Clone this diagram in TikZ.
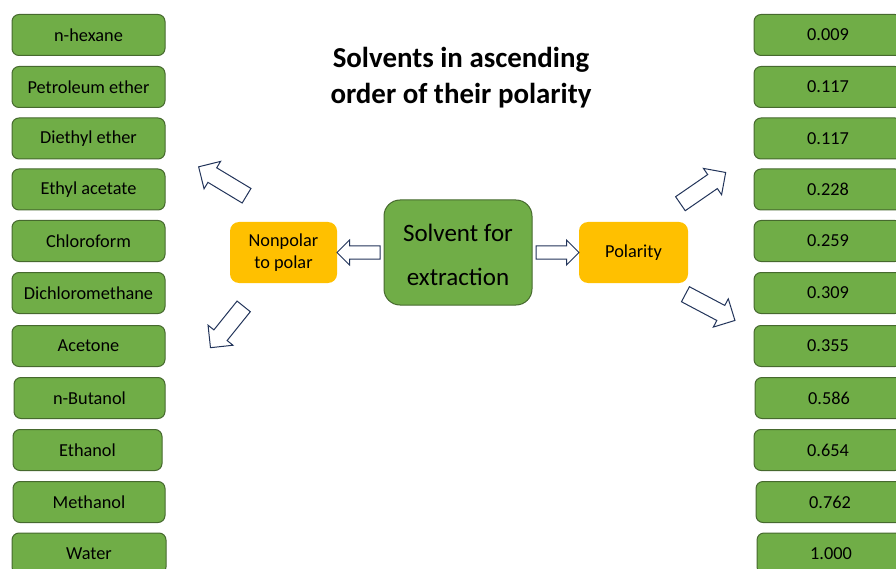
\documentclass[tikz,border=0pt]{standalone}
\usepackage{fontspec}
\setmainfont{Carlito}
\usetikzlibrary{positioning}
\usetikzlibrary{shapes.arrows}

\definecolor{solvgreen}{HTML}{70AD47}
\definecolor{solvedge}{HTML}{46692E}
\definecolor{polyellow}{HTML}{FFC000}
\definecolor{arrowline}{HTML}{22345A}

\tikzset{
  solvbox/.style={draw=solvedge, fill=solvgreen, line width=1pt, rounded corners=7pt,
    minimum width=153pt, minimum height=41pt, inner sep=0pt,
    font=\fontsize{18.3}{22}\selectfont},
  polbox/.style={fill=polyellow, rounded corners=9pt, minimum height=61pt,
    inner sep=0pt, align=center, font=\fontsize{18.3}{22}\selectfont},
  fatarrow/.style={single arrow, draw=arrowline, fill=white, line width=1pt,
    inner xsep=0pt, anchor=tail},
  % shaft = 2 x inner ysep, head = shaft + 2 x head extend
  sidearrow/.style={fatarrow, minimum height=43pt, inner ysep=6pt,
    single arrow head extend=6pt},
  slantarrow/.style={fatarrow, minimum height=55pt, inner ysep=8pt,
    single arrow head extend=7.5pt}
}

\begin{document}
\begin{tikzpicture}[x=1pt, y=-1pt]
    \useasboundingbox (0,0) rectangle (896,569);

    % Heading
    \node[align=center, font=\fontsize{28.9}{36}\bfseries\selectfont] (title) at (461,78)
        {Solvents in ascending\\order of their polarity};

    % Centre block
    \node[draw=solvedge, fill=solvgreen, line width=1pt, rounded corners=16pt,
        minimum width=148pt, minimum height=105pt, align=center,
        font=\fontsize{25}{44}\selectfont] (extract) at (458,252.5)
        {\rule{0pt}{22pt}Solvent for\\extraction};

    % Side blocks
    \node[polbox, minimum width=107pt] (nonpolar) at (283.5,252.5) {Nonpolar\\to polar};
    \node[polbox, minimum width=109pt] (polarity) at (633.5,252.5) {Polarity};

    % Solvents, least polar first
    \foreach \i/\xx/\yy/\ww/\txt in {
        1/88.5/35/153/n-hexane,
        2/88.5/87/153/Petroleum ether,
        3/88.5/138.5/153/Diethyl ether,
        4/88.5/189.5/153/Ethyl acetate,
        5/88.5/241/153/Chloroform,
        6/88.5/293/153/Dichloromethane,
        7/88.5/346/153/Acetone,
        8/89.5/398/151/n-Butanol,
        9/87.5/450/149/Ethanol,
        10/89/502/152/Methanol,
        11/89/553.5/154/Water} {
        \node[solvbox, minimum width=\ww pt] (solv\i) at (\xx,\yy) {\txt};
    }

    % Polarity index of each solvent
    \foreach \i/\xx/\yy/\txt in {
        1/828/35/0.009,
        2/828/87/0.117,
        3/828/138.5/0.117,
        4/828/189.5/0.228,
        5/828/241/0.259,
        6/828/293/0.309,
        7/828/346/0.355,
        8/829/398/0.586,
        9/828/450/0.654,
        10/830/502/0.762,
        11/831/553.5/1.000} {
        \node[solvbox, minimum width=148pt] (pol\i) at (\xx,\yy) {\txt};
    }

    % Block arrows
    \node[sidearrow, rotate=180] (toleft) at ([xshift=-3pt]extract.west) {};
    \node[sidearrow] (toright) at ([xshift=3pt]extract.east) {};
    \node[slantarrow, minimum height=56pt, rotate=148.9] (upleft) at (247,196) {};
    \node[slantarrow, minimum height=53pt, rotate=231.2] (downleft) at (244,306) {};
    \node[slantarrow, rotate=34.6] (upright) at (680,204) {};
    \node[slantarrow, minimum height=56pt, rotate=-27.9] (downright) at (685,294) {};
\end{tikzpicture}
\end{document}
